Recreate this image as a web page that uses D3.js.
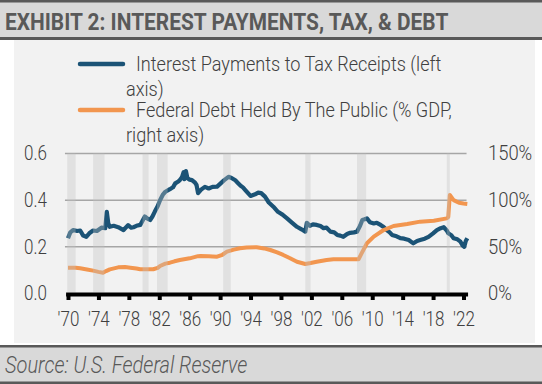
<!DOCTYPE html>
<html>
<head>
<meta charset="utf-8">
<script src="https://cdn.jsdelivr.net/npm/d3@7"></script>
<style>
  body { margin: 0; background: #fff; }
  svg text { font-family: Roboto, "Liberation Sans", sans-serif; }
</style>
</head>
<body>
<svg id="chart" width="542" height="384"></svg>
<script>
// interest payments / tax receipts (left axis)
var ipYears = [1970.0, 1970.3, 1970.7, 1971.2, 1971.6, 1972.0, 1972.4, 1972.8, 1973.3, 1973.8,
  1974.4, 1974.9, 1975.1, 1975.3, 1975.5, 1976.0, 1976.6, 1977.3, 1977.9, 1978.3,
  1978.6, 1979.0, 1979.5, 1980.1, 1980.5, 1980.8, 1981.1, 1981.4, 1981.8, 1982.1,
  1982.5, 1982.8, 1983.4, 1983.8, 1984.1, 1984.5, 1984.7, 1985.0, 1985.2, 1985.3,
  1985.5, 1985.7, 1986.0, 1986.3, 1986.7, 1986.9, 1987.1, 1987.5, 1988.0, 1988.5,
  1989.0, 1989.6, 1990.0, 1990.5, 1991.1, 1991.5, 1992.0, 1992.3, 1992.7, 1993.0,
  1993.4, 1994.0, 1994.6, 1995.0, 1995.4, 1995.9, 1996.4, 1997.0, 1997.6, 1998.2,
  1998.8, 1999.4, 2000.1, 2000.7, 2001.2, 2001.4, 2001.8, 2002.2, 2002.7, 2003.2,
  2003.6, 2004.0, 2004.5, 2005.0, 2005.4, 2005.8, 2006.2, 2006.7, 2007.1, 2007.6,
  2008.0, 2008.4, 2008.7, 2009.0, 2009.3, 2009.7, 2010.2, 2010.6, 2011.1, 2011.5,
  2011.9, 2012.3, 2012.6, 2013.2, 2013.7, 2014.2, 2014.8, 2015.4, 2015.9, 2016.3,
  2016.9, 2017.4, 2018.0, 2018.5, 2019.0, 2019.4, 2019.8, 2020.0, 2020.4, 2020.7,
  2021.2, 2021.6, 2021.9, 2022.1, 2022.3, 2022.5];
var ipRatio = [0.237, 0.262, 0.272, 0.268, 0.270, 0.248, 0.243, 0.258, 0.270, 0.268,
  0.282, 0.280, 0.350, 0.300, 0.286, 0.290, 0.284, 0.272, 0.293, 0.282,
  0.284, 0.290, 0.294, 0.330, 0.320, 0.315, 0.330, 0.350, 0.375, 0.400,
  0.425, 0.436, 0.447, 0.455, 0.472, 0.480, 0.486, 0.500, 0.520, 0.490,
  0.525, 0.494, 0.488, 0.486, 0.475, 0.465, 0.430, 0.445, 0.457, 0.450,
  0.457, 0.458, 0.470, 0.485, 0.500, 0.495, 0.485, 0.475, 0.462, 0.455,
  0.440, 0.418, 0.425, 0.432, 0.430, 0.415, 0.390, 0.372, 0.350, 0.338,
  0.322, 0.305, 0.286, 0.275, 0.265, 0.303, 0.290, 0.296, 0.294, 0.289,
  0.280, 0.282, 0.265, 0.262, 0.251, 0.248, 0.243, 0.255, 0.260, 0.262,
  0.265, 0.290, 0.315, 0.318, 0.322, 0.305, 0.300, 0.303, 0.294, 0.285,
  0.272, 0.262, 0.251, 0.245, 0.237, 0.235, 0.229, 0.215, 0.225, 0.229,
  0.235, 0.243, 0.258, 0.272, 0.280, 0.284, 0.270, 0.258, 0.250, 0.237,
  0.232, 0.222, 0.205, 0.200, 0.225, 0.237];

// federal debt held by the public, % of GDP (right axis)
var debtYears = [1970.0, 1971.0, 1971.6, 1972.5, 1973.3, 1974.0, 1974.6, 1975.0, 1975.5, 1976.6,
  1977.5, 1978.2, 1979.0, 1979.5, 1980.5, 1981.2, 1981.8, 1982.1, 1982.8, 1983.4,
  1984.0, 1984.7, 1986.0, 1987.1, 1987.4, 1988.5, 1989.6, 1990.3, 1990.9, 1991.8,
  1992.6, 1993.5, 1994.8, 1995.8, 1996.6, 1997.5, 1998.3, 1999.2, 2000.1, 2001.2,
  2001.9, 2002.7, 2004.0, 2004.9, 2006.7, 2008.2, 2008.6, 2009.3, 2010.2, 2011.5,
  2012.8, 2014.6, 2016.3, 2018.1, 2019.8, 2020.0, 2020.2, 2020.7, 2021.4, 2022.0, 2022.5];
var debtPct = [27.6, 27.5, 27.0, 25.8, 24.5, 23.2, 22.3, 24.0, 25.9, 28.0,
  28.3, 27.7, 26.8, 26.0, 26.0, 26.0, 27.5, 29.5, 32.0, 33.0,
  34.5, 35.9, 37.7, 40.0, 40.2, 39.8, 39.4, 41.5, 44.8, 47.0,
  48.4, 49.3, 49.5, 48.3, 46.6, 44.0, 41.3, 37.8, 34.0, 31.6,
  32.6, 34.0, 35.8, 36.6, 36.6, 36.6, 43.0, 53.8, 60.9, 68.0,
  72.3, 74.5, 77.0, 78.0, 80.5, 82.0, 105.5, 100.0, 97.3, 96.5, 96.0];

// recessions (shaded)
var recStart = [1969.9, 1973.3, 1979.8, 1981.7, 1990.4, 2001.2, 2008.0, 2019.8];
var recEnd   = [1971.0, 1974.8, 1980.6, 1983.1, 1991.4, 2001.9, 2009.2, 2020.2];

var xTicks = [1970, 1974, 1978, 1982, 1986, 1990, 1994, 1998, 2002, 2006, 2010, 2014, 2018, 2022];
var leftTicks = [0, 0.2, 0.4, 0.6];
var rightTicks = [0, 50, 100, 150];

var titleText = "EXHIBIT 2: INTEREST PAYMENTS, TAX, & DEBT";
var sourceText = "Source: U.S. Federal Reserve";
var legendLines = [
  ["Interest Payments to Tax Receipts (left", "axis)"],
  ["Federal Debt Held By The Public (% GDP,", "right axis)"]
];

var blue = "#1b5376", orange = "#f2964f", ink = "#404040";

var svg = d3.select("#chart");

// squeeze text horizontally to mimic the condensed face
function squeeze(sel, k) {
  sel.each(function () {
    var len = this.getComputedTextLength();
    d3.select(this).attr("textLength", len * k).attr("lengthAdjust", "spacingAndGlyphs");
  });
}

// frame: title band, panel, source band
svg.append("rect").attr("x", 0).attr("y", 0).attr("width", 542).attr("height", 40).attr("fill", "#d9d9d9");
svg.append("rect").attr("x", 0).attr("y", 0).attr("width", 542).attr("height", 2.5).attr("fill", "#595959");
svg.append("rect").attr("x", 0).attr("y", 37).attr("width", 542).attr("height", 3).attr("fill", "#595959");
svg.append("rect").attr("x", 14).attr("y", 40).attr("width", 521).attr("height", 303).attr("fill", "#f2f2f2");
svg.append("rect").attr("x", 0).attr("y", 345).attr("width", 542).attr("height", 39).attr("fill", "#d9d9d9");
svg.append("rect").attr("x", 0).attr("y", 345).attr("width", 542).attr("height", 2.5).attr("fill", "#595959");
svg.append("rect").attr("x", 0).attr("y", 381.5).attr("width", 542).attr("height", 2.5).attr("fill", "#595959");

svg.append("text").attr("x", 5).attr("y", 29.5)
  .attr("font-size", 24).attr("font-weight", 700).attr("fill", "#595959")
  .text(titleText).call(squeeze, 0.87);

svg.append("text").attr("x", 5).attr("y", 373)
  .attr("font-size", 23).attr("font-weight", 300).attr("font-style", "italic").attr("fill", "#595959")
  .text(sourceText).call(squeeze, 0.87);

// scales
var x = d3.scaleLinear().domain([1970, 2022]).range([68, 463.5]);
var yL = d3.scaleLinear().domain([0, 0.6]).range([293.5, 153.5]);
var yR = d3.scaleLinear().domain([0, 150]).range([293.5, 153.5]);

// gridlines
svg.append("g").selectAll("line").data(leftTicks.slice(1)).enter().append("line")
  .attr("x1", x(1969.6)).attr("x2", x(2022.4))
  .attr("y1", d => yL(d)).attr("y2", d => yL(d))
  .attr("stroke", "#a6a6a6").attr("stroke-width", 1.5);

// lines
var ipLine = d3.line().x((d, i) => x(ipYears[i])).y(d => yL(d));
var debtLine = d3.line().x((d, i) => x(debtYears[i])).y(d => yR(d));

svg.append("path").datum(ipRatio).attr("d", ipLine)
  .attr("fill", "none").attr("stroke", blue).attr("stroke-width", 4.2).attr("stroke-linejoin", "round");
svg.append("path").datum(debtPct).attr("d", debtLine)
  .attr("fill", "none").attr("stroke", orange).attr("stroke-width", 4).attr("stroke-linejoin", "round");

// recession shading drawn on top, semi-transparent
svg.append("g").selectAll("rect").data(recStart).enter().append("rect")
  .attr("x", d => x(d))
  .attr("width", (d, i) => x(recEnd[i]) - x(d))
  .attr("y", yL(0.6)).attr("height", yL(0.005) - yL(0.6))
  .attr("fill", "#c4c4c4").attr("opacity", 0.35);

// x axis
svg.append("line").attr("x1", x(1969.75)).attr("x2", x(2022.6))
  .attr("y1", 294.5).attr("y2", 294.5).attr("stroke", "#000").attr("stroke-width", 4);
var xAxis = d3.axisBottom(x).tickValues(xTicks).tickSize(6).tickSizeOuter(0).tickPadding(12)
  .tickFormat(d => "'" + String(d).slice(2));
var gx = svg.append("g").attr("transform", "translate(0,294)").call(xAxis);
gx.select(".domain").remove();
gx.selectAll(".tick line").attr("stroke", "#000").attr("stroke-width", 4);
gx.selectAll(".tick text").attr("font-family", "Roboto, sans-serif").attr("font-size", 20)
  .attr("font-weight", 300).attr("fill", ink).attr("dy", "0.71em").call(squeeze, 0.85);

// left axis labels
var yAxisL = d3.axisLeft(yL).tickValues(leftTicks).tickSize(0).tickPadding(0).tickFormat(d3.format(".1f"));
var gl = svg.append("g").attr("transform", "translate(47,0)").call(yAxisL);
gl.select(".domain").remove();
gl.selectAll(".tick text").attr("font-family", "Roboto, sans-serif").attr("font-size", 20)
  .attr("font-weight", 300).attr("fill", ink).call(squeeze, 0.85);

// right axis labels
var yAxisR = d3.axisRight(yR).tickValues(rightTicks).tickSize(0).tickPadding(0).tickFormat(d => d + "%");
var gr = svg.append("g").attr("transform", "translate(488,0)").call(yAxisR);
gr.select(".domain").remove();
gr.selectAll(".tick text").attr("font-family", "Roboto, sans-serif").attr("font-size", 20)
  .attr("font-weight", 300).attr("fill", ink).call(squeeze, 0.92);

// legend
var legend = svg.append("g");
[blue, orange].forEach(function (c, i) {
  var top = 64 + i * 46;
  legend.append("line").attr("x1", 80).attr("x2", 123).attr("y1", top).attr("y2", top)
    .attr("stroke", c).attr("stroke-width", 4.5).attr("stroke-linecap", "round");
  legend.append("text").attr("x", 136).attr("y", top + 7)
    .attr("font-size", 20).attr("font-weight", 300).attr("fill", ink)
    .text(legendLines[i][0]).call(squeeze, 0.905);
  legend.append("text").attr("x", 126).attr("y", top + 32)
    .attr("font-size", 20).attr("font-weight", 300).attr("fill", ink)
    .text(legendLines[i][1]).call(squeeze, 0.905);
});
</script>
</body>
</html>
